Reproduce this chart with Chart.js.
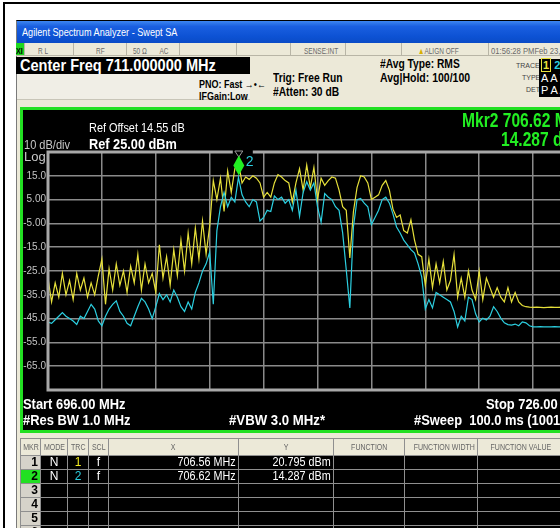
<!DOCTYPE html>
<html><head><meta charset="utf-8">
<script src="https://cdn.jsdelivr.net/npm/chart.js@4.4.1/dist/chart.umd.min.js"></script>
<style>
html,body{margin:0;padding:0;}
body{width:560px;height:528px;overflow:hidden;position:relative;background:#fff;font-family:'Liberation Sans',Arial,sans-serif;}
.a{position:absolute;white-space:nowrap;line-height:1;transform-origin:0 0;}
.frame{position:absolute;left:3px;top:2px;width:700px;height:700px;border-top:2px solid #000;border-left:2px solid #000;}
.win{position:absolute;left:16px;top:20px;width:700px;height:600px;background:#ece9d8;border-top:1px solid #000;border-left:1px solid #7a7a7a;}
.title{position:absolute;left:17px;top:21px;width:700px;height:22px;background:linear-gradient(#3d86f0 0%,#1a5fe0 25%,#0d52d4 70%,#0a4bc6 100%);}
.status{position:absolute;top:43px;height:12px;background:#ece9d8;border-right:1px solid #b8b5a6;border-bottom:1px solid #b8b5a6;color:#6a6a6a;line-height:12px;overflow:hidden;}
.status span{display:inline-block;font-size:9px;transform:scaleX(0.72);transform-origin:0 50%;white-space:nowrap;}
.bk{color:#000;font-weight:bold;}
.panel{position:absolute;left:20px;top:107px;width:700px;height:320px;background:#000;border:3px solid #22e022;}
.wt{color:#fff;font-weight:bold;}
table.mk{position:absolute;left:20px;top:438px;width:543px;border-collapse:collapse;table-layout:fixed;}
table.mk td{border:1px solid #8f8f8f;padding:0 2px;overflow:hidden;white-space:nowrap;}
table.mk tr.h td{height:16px;background:#ece9d8;color:#666;font-size:9px;text-align:center;padding:0;}
table.mk tr.h td span{display:inline-block;transform:scaleX(0.78);}
table.mk tr.r td{height:13px;background:#000;color:#fff;font-size:12px;line-height:13px;text-align:center;}
table.mk tr.r td.n{background:#d6d3ca;color:#000;font-weight:bold;text-align:right;}
table.mk tr.r td.g{background:#22e022;}
table.mk tr.r td.rt{text-align:right;}
table.mk tr.r td.rt span{display:inline-block;transform:scaleX(0.9);transform-origin:100% 50%;}
</style></head><body>
<div class="frame"></div>
<div class="win"></div>
<div class="title"></div>
<div class="a" style="left:22px;top:27px;font-size:10.5px;color:#fff;transform:scaleX(0.87);">Agilent Spectrum Analyzer - Swept SA</div>

<div class="status" style="left:16px;width:8px;background:#1fd81f;color:#000;font-weight:bold;"><span style="transform:scaleX(0.8)">XI</span></div>
<div class="status" style="left:25px;width:48px;"><span style="margin-left:13px">R L</span></div>
<div class="status" style="left:74px;width:52px;"><span style="margin-left:22px">RF</span></div>
<div class="status" style="left:127px;width:52px;"><span style="margin-left:6px">50 Ω &nbsp;&nbsp;&nbsp;&nbsp;&nbsp; AC</span></div>
<div class="status" style="left:180px;width:56px;"></div>
<div class="status" style="left:237px;width:53px;"></div>
<div class="status" style="left:291px;width:54px;"><span style="margin-left:13px">SENSE:INT</span></div>
<div class="status" style="left:346px;width:55px;"></div>
<div class="status" style="left:402px;width:86px;"><span style="margin-left:16px"><b style="color:#d8b000">▲</b>ALIGN OFF</span></div>
<div class="status" style="left:489px;width:200px;"><span style="margin-left:2px;transform:scaleX(0.85)">01:56:28 PMFeb 23, 2011</span></div>

<div class="a" style="left:16px;top:57px;width:234px;height:17px;background:#000;"></div>
<div class="a wt" style="left:20px;top:58px;font-size:16px;transform:scaleX(0.91);">Center Freq 711.000000 MHz</div>
<div class="a" style="left:17px;top:74px;width:233px;height:25px;background:#f0eee6;border-bottom:1px solid #c8c5b8;"></div>

<div class="a bk" style="left:199px;top:79px;font-size:11.5px;transform:scaleX(0.78);">PNO: Fast <span style="font-weight:normal">→•←</span></div>
<div class="a bk" style="left:199px;top:91px;font-size:11.5px;transform:scaleX(0.78);">IFGain:Low</div>
<div class="a bk" style="left:273px;top:72px;font-size:12.5px;transform:scaleX(0.82);">Trig: Free Run</div>
<div class="a bk" style="left:273px;top:86px;font-size:12.5px;transform:scaleX(0.82);">#Atten: 30 dB</div>
<div class="a bk" style="left:380px;top:58px;font-size:12.5px;transform:scaleX(0.82);">#Avg Type: RMS</div>
<div class="a bk" style="left:380px;top:72px;font-size:12.5px;transform:scaleX(0.84);">Avg|Hold: 100/100</div>
<div class="a" style="left:516px;top:62px;font-size:7px;color:#444;">TRACE</div>
<div class="a" style="left:522px;top:74px;font-size:7px;color:#444;">TYPE</div>
<div class="a" style="left:526px;top:86px;font-size:7px;color:#444;">DET</div>
<div class="a" style="left:539px;top:59px;width:40px;height:38px;background:#000;"></div>
<div class="a" style="left:541px;top:60px;font-size:11px;font-weight:bold;"><span style="color:#e8e23c;border:1px solid #e8e23c;padding:0 1px">1</span> <span style="color:#2ccfe0">2</span></div>
<div class="a" style="left:541px;top:73px;font-size:11px;color:#fff;">A A W</div>
<div class="a" style="left:541px;top:85px;font-size:11px;color:#fff;">P A A</div>

<div class="panel"></div>
<canvas id="c" width="600" height="320" style="position:absolute;left:0;top:110px;"></canvas>

<div class="a" style="left:89px;top:121px;font-size:13px;color:#fff;transform:scaleX(0.84);">Ref Offset 14.55 dB</div>
<div class="a wt" style="left:89px;top:136px;font-size:15px;transform:scaleX(0.85);">Ref 25.00 dBm</div>
<div class="a" style="left:24px;top:139px;font-size:12px;color:#c8c8c8;transform:scaleX(0.92);">10 dB/div</div>
<div class="a" style="left:24px;top:150px;font-size:13px;color:#c8c8c8;">Log</div>
<div class="a" style="left:462px;top:110px;font-size:20px;font-weight:bold;color:#22ee22;transform:scaleX(0.78);">Mkr2 706.62 MHz</div>
<div class="a" style="left:501px;top:129px;font-size:20px;font-weight:bold;color:#22ee22;transform:scaleX(0.78);">14.287 dBm</div>

<div class="a wt" style="left:23px;top:396px;font-size:15px;transform:scaleX(0.86);">Start 696.00 MHz</div>
<div class="a wt" style="left:23px;top:412px;font-size:15px;transform:scaleX(0.86);">#Res BW 1.0 MHz</div>
<div class="a wt" style="left:229px;top:412px;font-size:15px;transform:scaleX(0.88);">#VBW 3.0 MHz*</div>
<div class="a wt" style="left:486px;top:396px;font-size:15px;transform:scaleX(0.86);">Stop 726.00 MHz</div>
<div class="a wt" style="left:414px;top:412px;font-size:15px;transform:scaleX(0.86);">#Sweep &nbsp;100.0 ms (1001 pts)</div>

<table class="mk">
<colgroup><col style="width:20px"><col style="width:27px"><col style="width:21px"><col style="width:20px"><col style="width:130px"><col style="width:95px"><col style="width:71px"><col style="width:73px"><col style="width:86px"></colgroup>
<tr class="h"><td><span>MKR</span></td><td><span>MODE</span></td><td><span>TRC</span></td><td><span>SCL</span></td><td><span>X</span></td><td><span>Y</span></td><td><span>FUNCTION</span></td><td><span>FUNCTION WIDTH</span></td><td><span>FUNCTION VALUE</span></td></tr>
<tr class="r"><td class="n">1</td><td>N</td><td style="color:#f0ea20">1</td><td>f</td><td class="rt"><span>706.56 MHz</span></td><td class="rt"><span>20.795 dBm</span></td><td></td><td></td><td></td></tr>
<tr class="r"><td class="n g">2</td><td>N</td><td style="color:#2ccfe0">2</td><td>f</td><td class="rt"><span>706.62 MHz</span></td><td class="rt"><span>14.287 dBm</span></td><td></td><td></td><td></td></tr>
<tr class="r"><td class="n">3</td><td></td><td></td><td></td><td></td><td></td><td></td><td></td><td></td></tr>
<tr class="r"><td class="n">4</td><td></td><td></td><td></td><td></td><td></td><td></td><td></td><td></td></tr>
<tr class="r"><td class="n">5</td><td></td><td></td><td></td><td></td><td></td><td></td><td></td><td></td></tr>
<tr class="r"><td class="n">6</td><td></td><td></td><td></td><td></td><td></td><td></td><td></td><td></td></tr>
</table>

<script>
// Sweep frequencies (MHz)
const freqs = [
696.0,696.2,696.4,696.6,696.8,697.0,697.2,697.4,697.6,697.8,
698.0,698.2,698.4,698.6,698.8,699.0,699.2,699.4,699.6,699.8,
700.0,700.2,700.4,700.6,700.8,701.0,701.2,701.4,701.6,701.8,
702.0,702.2,702.4,702.6,702.8,703.0,703.2,703.4,703.6,703.8,
704.0,704.2,704.4,704.6,704.8,705.0,705.2,705.4,705.6,705.8,
706.0,706.2,706.4,706.6,706.8,707.0,707.2,707.4,707.6,707.8,
708.0,708.2,708.4,708.6,708.8,709.0,709.2,709.4,709.6,709.8,
710.0,710.2,710.4,710.6,710.8,711.0,711.2,711.4,711.6,711.8,
712.0,712.2,712.4,712.6,712.8,713.0,713.2,713.4,713.6,713.8,
714.0,714.2,714.4,714.6,714.8,715.0,715.2,715.4,715.6,715.8,
716.0,716.2,716.4,716.6,716.8,717.0,717.2,717.4,717.6,717.8,
718.0,718.2,718.4,718.6,718.8,719.0,719.2,719.4,719.6,719.8,
720.0,720.2,720.4,720.6,720.8,721.0,721.2,721.4,721.6,721.8,
722.0,722.2,722.4,722.6,722.8,723.0,723.2,723.4,723.6,723.8,
724.0,724.2,724.4,724.6,724.8,725.0,725.2,725.4,725.6,725.8,
726.0];
// Trace 1 (yellow), dBm
const trace1 = [
-28,-38,-30,-36,-26,-35,-29,-37,-26,-33,
-28,-36,-30,-35,-27,-20,-39,-24,-33,-22,
-31,-25,-34,-23,-30,-18,-33,-22,-30,-26,
-34,-14,-28,-19,-31,-16,-27,-12,-25,-9,
-22,-7,-20,-4,-18,-6,13,5,14,0,
17,8,18,20.8,12,14.5,13.5,15,14,12,
6,8,6,12,15.5,14.5,13,12,4,12,
18,9,19.5,10,18.5,5,14,11,13,14.5,
14,9,2,0.5,-19.5,0,10,15,14.5,12,
5,6,7,11,13,9,1,-2.5,-1.5,-8,
-9,-3.5,-12,-18,-19,-31,-20,-32,-22,-30,
-21,-33,-29,-18,-36,-28,-36,-25,-33,-37,
-25,-37,-28,-32,-36,-32,-36,-38,-32,-38,
-34,-38,-39.5,-40,-40.2,-40.3,-40.2,-40.3,-40.4,-40.3,
-40.2,-40.3,-40.3,-40.2,-40.3,-40.4,-40.3,-40.2,-40.3,-40.3,
-40.3];
// Trace 2 (cyan), dBm
const trace2 = [
-46.5,-47,-45.5,-44,-42.5,-44,-45,-46,-47.5,-44,
-45,-42,-39,-41,-46,-48,-44,-41,-39,-37.5,
-42,-44,-47,-48,-44,-40,-36.5,-38,-41,-45,
-40,-34.5,-37,-35,-38,-33,-36,-40,-42,-38,
-41,-34,-30,-25,-22,-17,-39,-8,2,8,
2,6,4,14.3,7,4,2,5,4,-4,
-2.5,0.5,0,6.5,5,6,3.5,5,0.5,9,
-2,8,12.5,9,12,2,-4.5,7.5,6,5,
2,0.5,-9,-24.5,-40.5,-6.5,5,5.5,3.5,2,
-5.5,-2.5,0.5,5,6,3.5,-1,-6.5,-9,-12,
-14,-16,-17.5,-22,-27.5,-41,-37,-40.5,-34,-35,
-36,-37,-38,-42,-48.5,-44,-46,-36,-37,-43,
-46.4,-44.8,-45.6,-44,-40,-42,-44.8,-46.8,-47.5,-47.7,
-47.3,-48,-46.4,-46.8,-48,-48.5,-48.5,-48.4,-48.5,-48.5,
-48.5,-48.4,-48.5,-48.5,-48.5,-48.4,-48.5,-48.5,-48.5,-48.5,
-48.5];
const yTickValues = [15, 5, -5, -15, -25, -35, -45, -55, -65];
const yTickLabels = ['15.0','5.00','-5.00','-15.0','-25.0','-35.0','-45.0','-55.0','-65.0'];
const markerFreq = 706.62;
const markerLevel = 14.287;
const markerLabel = '2';

const FONT = "'Liberation Sans',Arial,sans-serif";

const frameAndMarker = {
  id: 'frameAndMarker',
  afterDatasetsDraw(chart) {
    const {ctx, chartArea: a, scales: {x, y}} = chart;
    ctx.save();
    ctx.strokeStyle = '#a8a8a8';
    ctx.lineWidth = 3;
    ctx.strokeRect(a.left, a.top, a.right - a.left, a.bottom - a.top);
    const mx = x.getPixelForValue(markerFreq);
    const my = y.getPixelForValue(markerLevel);
    ctx.fillStyle = '#000';
    ctx.fillRect(mx - 6, a.top - 2, 20, 4);
    ctx.strokeStyle = '#9a9a9a';
    ctx.lineWidth = 1;
    ctx.beginPath();
    ctx.moveTo(mx - 4, a.top - 1);
    ctx.lineTo(mx + 4, a.top - 1);
    ctx.lineTo(mx, a.top + 5);
    ctx.closePath();
    ctx.stroke();
    ctx.fillStyle = '#22ee22';
    ctx.beginPath();
    ctx.moveTo(mx, my - 22);
    ctx.lineTo(mx + 5.5, my - 12);
    ctx.lineTo(mx, my - 2);
    ctx.lineTo(mx - 5.5, my - 12);
    ctx.closePath();
    ctx.fill();
    ctx.fillStyle = '#2ccfe0';
    ctx.font = '14px ' + FONT;
    ctx.textBaseline = 'middle';
    ctx.fillText(markerLabel, mx + 7, my - 15);
    ctx.restore();
  }
};

new Chart(document.getElementById('c'), {
  type: 'line',
  data: {
    datasets: [
      { label: 'Trace 2', data: freqs.map((f, i) => ({x: f, y: trace2[i]})),
        borderColor: '#2ccfe0', borderWidth: 1.2, pointRadius: 0, tension: 0, order: 1 },
      { label: 'Trace 1', data: freqs.map((f, i) => ({x: f, y: trace1[i]})),
        borderColor: '#e6e03a', borderWidth: 1.2, pointRadius: 0, tension: 0, order: 2 }
    ]
  },
  options: {
    responsive: false,
    animation: false,
    devicePixelRatio: 1,
    layout: { padding: { left: 0, top: 42, right: 13, bottom: 40 } },
    plugins: { legend: { display: false }, tooltip: { enabled: false } },
    scales: {
      x: {
        type: 'linear', min: 696, max: 726,
        ticks: { stepSize: 3, display: false },
        grid: { color: '#8a8a8a', lineWidth: 1.5, drawTicks: false },
        border: { display: false },
        afterFit: s => { s.height = 0; }
      },
      y: {
        min: -75, max: 25,
        ticks: { stepSize: 10, color: '#c4c4c4', padding: 2, font: { family: FONT, size: 10 },
          callback: v => { const k = yTickValues.indexOf(v); return k >= 0 ? yTickLabels[k] : ''; } },
        grid: { color: '#8a8a8a', lineWidth: 1.5, drawTicks: false },
        border: { display: false },
        afterFit: s => { s.width = 48; }
      }
    }
  },
  plugins: [frameAndMarker]
});
</script>
</body></html>
